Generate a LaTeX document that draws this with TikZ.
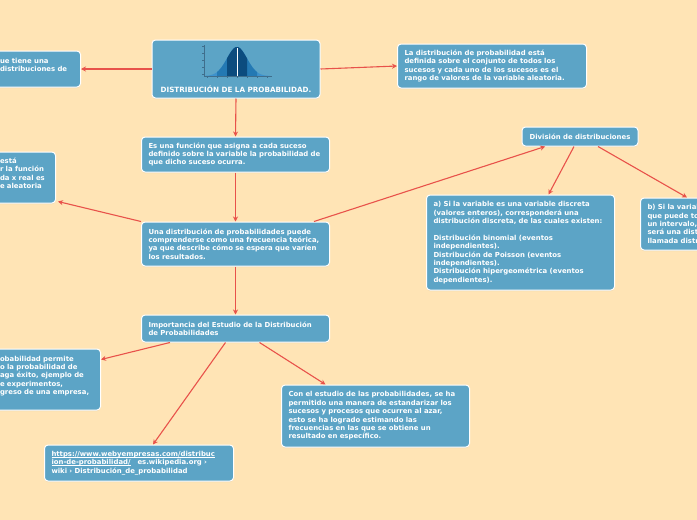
\documentclass[tikz,border=0pt]{standalone}
\usepackage{fontspec}
\setmainfont{DejaVu Sans}
\usetikzlibrary{arrows.meta,shadows,calc}
\definecolor{bg}{HTML}{FFE4B5}
\definecolor{boxc}{HTML}{5CA4C6}
\definecolor{arr}{HTML}{E8524A}
\definecolor{navy}{HTML}{0C4C7E}
\definecolor{midb}{HTML}{2479B3}
\definecolor{lightb}{HTML}{3E92CC}
\definecolor{axisc}{HTML}{3F6E8C}
\newcommand\myul[1]{\leavevmode\setbox0\hbox{#1}\rlap{\rule[-1pt]{\wd0}{0.45pt}}\box0}
\begin{document}
\begin{tikzpicture}[x=1pt,y=-1pt,
  box/.style={draw=white, line width=1pt, fill=boxc, rounded corners=3.5pt,
    text=white, font=\fontsize{6.9}{8.4}\selectfont\bfseries, align=left,
    inner xsep=7pt, inner ysep=4pt,
    drop shadow={opacity=0.15,shadow xshift=0pt,shadow yshift=-1pt}},
  con/.style={draw=arr, line width=1.1pt, -{Stealth[length=5pt,width=5pt]}}]
\useasboundingbox (0,0) rectangle (697,520);
\fill[bg] (0,0) rectangle (697,520);
\clip (0,0) rectangle (697,520);

% top box
\node[box, minimum width=168pt, minimum height=58pt] (top) at (236,69) {};
\fill[lightb] plot[domain=205:270,samples=60] (\x,{76-29*exp(-0.5*((\x-237)/10)*((\x-237)/10))}) -- (270,76) -- (205,76) -- cycle;
\fill[midb] plot[domain=217:257,samples=40] (\x,{76-29*exp(-0.5*((\x-237)/10)*((\x-237)/10))}) -- (257,76) -- (217,76) -- cycle;
\fill[navy] plot[domain=227:247,samples=30] (\x,{76-29*exp(-0.5*((\x-237)/10)*((\x-237)/10))}) -- (247,76) -- (227,76) -- cycle;
\draw[white, line width=0.4pt] (237,48) -- (237,76);
\draw[axisc, line width=0.5pt] (204,45) -- (204,76) -- (272,76);
\foreach \yy in {46,53,60,67,74} \draw[axisc, line width=0.4pt] (202,\yy) -- (204,\yy);
\foreach \xx in {207,217,227,237,247,257,267} \draw[axisc, line width=0.4pt] (\xx,76) -- (\xx,78);
\node[text=white, font=\fontsize{7.2}{8}\selectfont\bfseries, inner sep=0pt] (ttl) at (236,89) {DISTRIBUCIÓN DE LA PROBABILIDAD.};

% left top (clipped)
\node[box, anchor=east, text width=73.5pt, minimum height=36pt] (lt) at (81,69) {ue tiene una\\distribuciones de\\\mbox{}};

% right top
\node[box, text width=175pt, minimum height=44pt] (rt) at (492,66) {La distribución de probabilidad está\\definida sobre el conjunto de todos los\\sucesos y cada uno de los sucesos es el\\rango de valores de la variable aleatoria.};

% es una funcion
\node[box, text width=174pt, minimum height=35pt] (d) at (235.5,154.5) {Es una función que asigna a cada suceso\\definido sobre la variable la probabilidad de\\que dicho suceso ocurra.};

% left mid (clipped)
\node[box, anchor=east, text width=48.5pt, minimum height=51pt] (e) at (56,177.5) {está\\r la función\\da x real es\\e aleatoria\\\mbox{}};

% una distribucion
\node[box, text width=174pt, minimum height=44pt] (f) at (235.5,244) {Una distribución de probabilidades puede\\comprenderse como una frecuencia teórica,\\ya que describe cómo se espera que varíen\\los resultados.};

% division
\node[box, align=center, minimum width=116pt, minimum height=19pt] (g) at (580,136.5) {División de distribuciones};

% a)
\node[box, text width=174pt, minimum height=95pt] (h) at (520.5,242.5) {a) Si la variable es una variable discreta\\(valores enteros), corresponderá una\\distribución discreta, de las cuales existen:\\\mbox{}\\Distribución binomial (eventos\\independientes).\\Distribución de Poisson (eventos\\independientes).\\Distribución hipergeométrica (eventos\\dependientes).};

% b) (clipped)
\node[box, anchor=west, text width=174pt, minimum height=52pt] (i) at (640,224) {b) Si la variable\\que puede tomar\\un intervalo,\\será una distribución\\llamada distribución};

% importancia
\node[box, text width=174pt, minimum height=27pt] (j) at (235.5,328.5) {Importancia del Estudio de la Distribución\\de Probabilidades};

% left bottom (clipped)
\node[box, anchor=east, text width=93.5pt, minimum height=61pt] (k) at (101,379.5) {obabilidad permite\\o la probabilidad de\\aga éxito, ejemplo de\\e experimentos,\\greso de una empresa,\\\mbox{}};

% con el estudio
\node[box, text width=174pt, minimum height=62pt] (l) at (375.5,416) {Con el estudio de las probabilidades, se ha\\permitido una manera de estandarizar los\\sucesos y procesos que ocurren al azar,\\esto se ha logrado estimando las\\frecuencias en las que se obtiene un\\resultado en específico.};

% link
\node[box, text width=175pt, minimum height=36pt] (m) at (139,463) {\myul{https://www.webyempresas.com/distribuc}\\\myul{ion-de-probabilidad/}\quad es.wikipedia.org ›\\wiki › Distribución\_de\_probabilidad};

% connectors
\draw[con] (top.west) -- (lt.east);
\draw[con] (top.east) -- (rt.west);
\draw[con] (top.south) -- (d.north);
\draw[con] (d.south) -- (f.north);
\draw[con] (f.south) -- (j.north);
\draw[con] (f.north west) -- ($(e.south east)+(2,-2)$);
\draw[con] (f.16) -- (g.196);
\draw[con] ($(g.south)+(-6,0)$) -- ($(h.north)+(28,0)$);
\draw[con] ($(g.south)+(18,0)$) -- ($(i.north west)+(47,0)$);
\draw[con] ($(j.south west)+(29,0)$) -- ($(k.east)+(0,-20)$);
\draw[con] ($(j.south)+(-10,0)$) -- ($(m.north)+(14,0)$);
\draw[con] ($(j.south)+(24,0)$) -- ($(l.north)+(-50,0)$);
\end{tikzpicture}
\end{document}
